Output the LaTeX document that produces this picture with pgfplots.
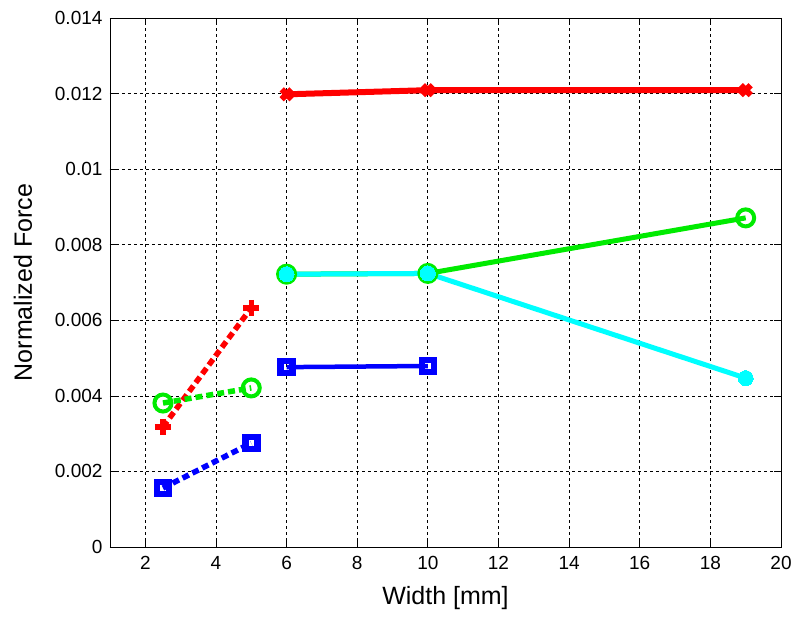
\documentclass[border=0pt]{standalone}
\usepackage{fontspec}
\setmainfont{Liberation Sans}
\usepackage{pgfplots}
\pgfplotsset{compat=1.18}

\definecolor{mred}{RGB}{255,0,0}
\definecolor{mgreen}{RGB}{0,235,0}
\definecolor{mblue}{RGB}{0,0,255}
\definecolor{mcyan}{RGB}{0,255,255}

\begin{document}
\begin{tikzpicture}
  \begin{axis}[
      scale only axis,
      width=671pt, height=529pt,
      xmin=1, xmax=20,
      ymin=0, ymax=0.014,
      xtick={2,4,...,20},
      ytick={0,0.002,0.004,0.006,0.008,0.01,0.012,0.014},
      scaled y ticks=false,
      yticklabel style={/pgf/number format/fixed, /pgf/number format/precision=3, xshift=-4pt},
      xticklabel style={yshift=-6pt},
      /pgf/number format/assume math mode=true,
      tick label style={font=\fontsize{19}{22}\selectfont},
      label style={font=\fontsize{25}{28}\selectfont},
      xlabel={Width [mm]},
      ylabel={Normalized Force},
      xlabel style={yshift=-10pt},
      ylabel style={yshift=16pt},
      grid=major,
      major grid style={black, dash pattern=on 3pt off 3pt, line width=0.7pt},
      tick style={black, line width=0.7pt},
      major tick length=7pt,
      tick align=inside,
      axis line style={black, line width=0.9pt},
    ]

    % dashed series (small widths)
    \addplot[mred, line width=5.5pt, dash pattern=on 7pt off 4pt,
      mark=+, mark size=8pt, mark options={solid, line width=5.5pt}]
    coordinates {(2.5,0.00318)(5,0.00633)};

    \addplot[mgreen, line width=5.5pt, dash pattern=on 7pt off 4pt,
      mark=o, mark size=8.5pt, mark options={solid, line width=4pt, fill=white}]
    coordinates {(2.5,0.00381)(5,0.00421)};

    \addplot[mblue, line width=5.5pt, dash pattern=on 7pt off 4pt,
      mark=square, mark size=6pt, mark options={solid, line width=6.5pt}]
    coordinates {(2.5,0.00156)(5,0.00275)};

    % solid series
    \addplot[mred, line width=6pt, mark=x, mark size=7pt, mark options={line width=6pt}]
    coordinates {(6,0.01198)(10,0.01209)(19,0.01209)};

    \addplot[mblue, line width=4.5pt, mark=square, mark size=6pt, mark options={line width=6.5pt}]
    coordinates {(6,0.00476)(10,0.00479)};

    \addplot[mgreen, line width=5pt, mark=o, mark size=8.5pt, mark options={line width=4pt, fill=white}]
    coordinates {(6,0.00722)(10,0.00724)(19,0.00871)};

    \addplot[mcyan, line width=5pt, mark=*, mark size=7.5pt, mark options={draw=mcyan, fill=mcyan, line width=0pt}]
    coordinates {(6,0.00722)(10,0.00724)(19,0.00447)};

  \end{axis}
  \pgfresetboundingbox
  \path[use as bounding box] (current axis.south west) ++(-110pt,-76pt) rectangle ([shift={(19pt,18pt)}]current axis.north east);
\end{tikzpicture}
\end{document}
